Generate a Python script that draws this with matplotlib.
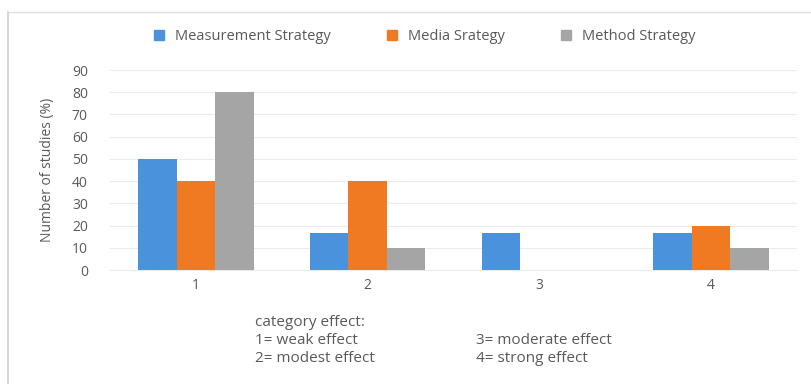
import numpy as np
import matplotlib.pyplot as plt
from matplotlib.lines import Line2D

# ----------------------------
# Data
# ----------------------------
categories = ["1", "2", "3", "4"]
series_names = ["Measurement Strategy", "Media Srategy", "Method Strategy"]
measurement = [50, 16.7, 16.7, 16.7]
media = [40, 40, 0, 20]
method = [80, 10, 0, 10]
y_ticks = [0, 10, 20, 30, 40, 50, 60, 70, 80, 90]

key_lines_left = ["category effect:", "1= weak effect", "2= modest effect"]
key_lines_right = ["3= moderate effect", "4= strong effect"]

COLORS = ["#4A92DC", "#F07A22", "#A5A5A5"]
TEXT_COLOR = "#595959"

plt.rcParams["font.family"] = ["Open Sans", "DejaVu Sans"]

fig = plt.figure(figsize=(8.12, 3.84), dpi=100)
ax = fig.add_axes([110 / 812, 1 - 270 / 384, 687 / 812, 200 / 384])

x = np.arange(len(categories))
bar_w = 0.224
for i, (vals, name) in enumerate(zip([measurement, media, method], series_names)):
    ax.bar(x + (i - 1) * bar_w, vals, width=bar_w, color=COLORS[i], label=name, zorder=3)

ax.set_xlim(-0.5, len(categories) - 0.5)
ax.set_ylim(0, 90)
ax.set_yticks(y_ticks)
ax.set_xticks(x)
ax.set_xticklabels(categories)
ax.tick_params(axis="both", length=0, labelsize=10, colors=TEXT_COLOR)
ax.tick_params(axis="y", pad=16)
ax.tick_params(axis="x", pad=6)
ax.grid(axis="y", color="#EBEBEB", linewidth=0.8, zorder=0)
for side in ["top", "right", "left"]:
    ax.spines[side].set_visible(False)
ax.spines["bottom"].set_color("#EBEBEB")
ax.set_ylabel("Number of studies (%)", fontsize=10, color=TEXT_COLOR, labelpad=12)

handles = [Line2D([], [], marker="s", linestyle="", markersize=6.5, color=c) for c in COLORS]
fig.legend(handles, series_names, loc="center", bbox_to_anchor=(420 / 812, 1 - 37 / 384),
           ncol=3, frameon=False, fontsize=10.5, labelcolor=TEXT_COLOR,
           handletextpad=0.1, columnspacing=3.2)

# category key under the chart
for k, line in enumerate(key_lines_left):
    fig.text(255 / 812, 1 - (323 + 18 * k) / 384, line, fontsize=11,
             color=TEXT_COLOR, va="center", ha="left")
for k, line in enumerate(key_lines_right):
    fig.text(476 / 812, 1 - (341 + 18 * k) / 384, line, fontsize=11,
             color=TEXT_COLOR, va="center", ha="left")

# chart frame
fig.add_artist(Line2D([8 / 812, 8 / 812], [0, 1 - 12 / 384], color="#D0D0D0", linewidth=1.2))
fig.add_artist(Line2D([8 / 812, 1], [1 - 12 / 384, 1 - 12 / 384], color="#E0E0E0", linewidth=1.0))

fig.savefig("out.png", dpi=100)
